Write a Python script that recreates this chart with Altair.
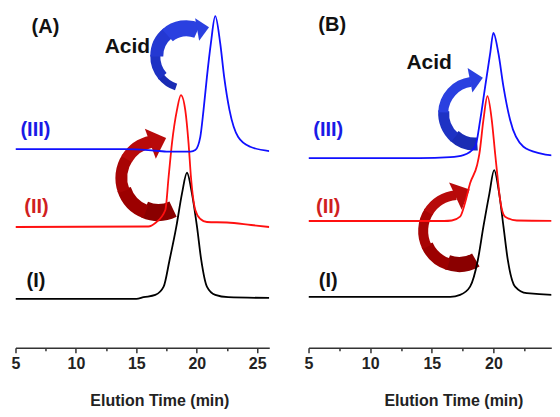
import altair as alt
import pandas as pd

FONT = "Liberation Sans"

# ---------------- data ----------------
# elution time (min) and signal (a.u., above each trace's own baseline)
# Panel (A)
a1_t = [5, 15.0, 15.6, 16.57, 17.26, 17.75, 18.31, 18.78, 19.19, 19.60, 20.02, 20.37, 20.84, 21.53, 22.6, 26]
a1_h = [0, 0, 1.7, 4, 12.3, 39, 72.3, 105.7, 126.3, 105.7, 72.3, 39, 12.3, 4, 1.7, 1]
a2_t = [5, 16.0, 16.57, 17.40, 17.67, 17.95, 18.36, 18.69, 19.05, 19.32, 19.52, 19.88, 20.3, 20.84, 22.5, 24.5, 26]
a2_h = [0, 0.5, 4, 17, 50, 84, 117, 132, 117, 84, 50, 17, 8, 5, 4.5, 2, 0]
a3_t = [5, 14, 16, 17.5, 19.5, 19.88, 20.29, 20.56, 20.84, 21.17, 21.53, 21.94, 22.27, 22.71, 23.43, 24.42, 26]
a3_h = [0, 0, -1, -2.5, -2.5, -1, 12, 39, 72, 106, 133, 106, 72, 39, 12, 2.3, -2]
a_offsets = [49, 121, 199]

# Panel (B)
b1_t = [5, 16.5, 17.30, 18.11, 18.74, 19.19, 19.68, 20.06, 20.47, 20.82, 21.17, 21.76, 22.71, 25.4, 26]
b1_h = [0, 0, 2, 10.3, 37, 70.3, 103.7, 127, 103.7, 70.3, 37, 10.3, 3.7, 2, 2]
b2_t = [5, 16.0, 16.63, 17.30, 17.7, 18.11, 18.68, 18.87, 19.19, 19.52, 19.87, 20.14, 20.28, 20.55, 20.95, 21.9, 26]
b2_h = [0, 0, 0.5, 4.3, 18, 37.7, 56, 67.7, 101, 125, 101, 67.7, 51, 21, 4.3, 0.5, 0]
b3_t = [5, 14, 16.5, 17.57, 18.52, 18.93, 19.33, 19.74, 20.0, 20.41, 20.82, 21.36, 22.44, 23.79, 25.4, 26]
b3_h = [0, 0, 1, 3, 11.3, 38, 71.3, 104.7, 125.3, 104.7, 71.3, 38, 11.3, 4.7, 2, 1.8]
b_offsets = [51, 127, 190]

series_names = ["(I)", "(II)", "(III)"]
series_colors = ["#000000", "#ff1010", "#1010ff"]
label_colors = ["#111111", "#d01f1f", "#1a1ae6"]

a_ticks = [5, 7.5, 10, 12.5, 15, 17.5, 20, 22.5, 25]
b_ticks = [5, 7.5, 10, 12.5, 15, 17.5, 20, 22.5]

# label positions (time, signal)
a_label_t = [6.69, 6.74, 6.65]
a_label_y = [67, 141, 218]
b_label_t = [6.6, 6.6, 6.6]
b_label_y = [67, 141, 218]

panel_tags = ["(A)", "(B)"]
tag_t = [7.48, 6.92]
tag_y = [321, 323]
acid_t = [14.26, 14.79]
acid_y = [301, 285]

# arrow centres (time, signal)
a_red_arrow = (16.82, 170)
a_red_head = (16.78, 207)
a_blue_arrow = (19.13, 292)
a_blue_head = (20.50, 319.7)
b_red_arrow = (17.22, 117)
b_red_head = (17.47, 155)
b_blue_arrow = (18.52, 234.5)
b_blue_head = (18.60, 269)

HEAD = "M -0.5,-1 L 0.55,0 L -0.5,1 Z"

# tapered arrow bodies: (start angle, end angle, outer radius, inner radius, colour)
a_red_body = [(2.70, 3.55, 43, 26, "#8a0000"), (3.50, 4.40, 43, 29, "#9c0000"),
              (4.35, 5.30, 43, 31, "#a80404"), (5.25, 6.09, 43, 31, "#b80a0a")]
a_blue_body = [(3.46, 4.05, 36, 29, "#1a2cb4"), (4.00, 4.75, 36, 26, "#1e32c4"),
               (4.70, 5.60, 36, 23, "#2438d2"), (5.55, 6.70, 36, 20, "#2a40e0")]
b_red_body = [(2.62, 3.50, 41, 26, "#8a0000"), (3.45, 4.30, 41, 29, "#9c0000"),
              (4.25, 5.30, 41, 31, "#a80404"), (5.25, 6.20, 41, 31, "#b80a0a")]
b_blue_body = [(3.07, 3.90, 37, 24, "#1a2cb4"), (3.85, 4.80, 37, 26, "#1e32c4"),
               (4.75, 6.15, 37, 27, "#2a40e0")]


def lines_df(ts, hs, offs):
    rows = []
    for k, (t, h, o) in enumerate(zip(ts, hs, offs)):
        for i, (tt, hh) in enumerate(zip(t, h)):
            rows.append({"t": tt, "y": hh + o, "s": series_names[k],
                         "c": series_colors[k], "i": i})
    return pd.DataFrame(rows)


def panel(idx, ts, hs, offs, lab_t, lab_y, arrows, heads, xmax, ticks, width, title_x):
    X = alt.X("t:Q", scale=alt.Scale(domain=[5, xmax], nice=False, zero=False),
              axis=alt.Axis(
                  values=ticks,
                  labelExpr="datum.value % 5 == 0 ? datum.label : ''",
                  tickSize={"condition": {"test": "datum.value % 5 != 0", "value": 3}, "value": 5},
                  grid=False, domainColor="#333333", domainWidth=1.5,
                  tickColor="#333333", tickWidth=1.5,
                  labelFont=FONT, labelFontSize=16, labelFontWeight="bold",
                  labelColor="#222222", labelPadding=3, labelFlush=False, labelOverlap=False,
                  title="Elution Time (min)", titleFont=FONT, titleFontSize=16,
                  titleFontWeight="bold", titleColor="#222222",
                  titleX=title_x, titleY=52.5, titleBaseline="middle", titleAlign="center"))
    Y = alt.Y("y:Q", scale=alt.Scale(domain=[0, 340], nice=False, zero=False), axis=None)

    layers = []
    # arrows (drawn first so the traces lie on top)
    for (ct, cy), body in arrows:
        d = pd.DataFrame({"t": [ct], "y": [cy]})
        for th1, th2, r1, r2, col in body:
            layers.append(alt.Chart(d).mark_arc(theta=th1, theta2=th2, radius=r1, radius2=r2,
                                                color=col, opacity=1, strokeWidth=0).encode(x=X, y=Y))
    for (ct, cy), (ang, sz, col) in heads:
        d = pd.DataFrame({"t": [ct], "y": [cy]})
        layers.append(alt.Chart(d).mark_point(shape=HEAD, filled=True, size=sz, angle=ang,
                                              color=col, opacity=1, strokeWidth=0).encode(x=X, y=Y))

    df = lines_df(ts, hs, offs)
    layers.append(alt.Chart(df).mark_line(interpolate="monotone", strokeWidth=1.8, clip=True).encode(
        x=X, y=Y, color=alt.Color("c:N", scale=None), detail="s:N", order="i:Q"))

    lab = pd.DataFrame({"t": lab_t, "y": lab_y, "text": series_names, "c": label_colors})
    layers.append(alt.Chart(lab).mark_text(font=FONT, fontWeight="bold", fontSize=20,
                                           align="center", baseline="middle").encode(
        x=X, y=Y, text="text:N", color=alt.Color("c:N", scale=None)))

    tag = pd.DataFrame({"t": [tag_t[idx], acid_t[idx]], "y": [tag_y[idx], acid_y[idx]],
                        "text": [panel_tags[idx], "Acid"], "fs": [20, 21]})
    layers.append(alt.Chart(tag).mark_text(font=FONT, fontWeight="bold", color="#111111",
                                           align="center", baseline="middle").encode(
        x=X, y=Y, text="text:N", size=alt.Size("fs:Q", scale=None)))

    return alt.layer(*layers).properties(width=width, height=340)


pa = panel(0, [a1_t, a2_t, a3_t], [a1_h, a2_h, a3_h], a_offsets, a_label_t, a_label_y,
           arrows=[(a_red_arrow, a_red_body), (a_blue_arrow, a_blue_body)],
           heads=[(a_red_head, (340, 1024, "#b80a0a")),
                  (a_blue_head, (350, 529, "#2a40e0"))],
           xmax=26, ticks=a_ticks, width=254, title_x=144)
pb = panel(1, [b1_t, b2_t, b3_t], [b1_h, b2_h, b3_h], b_offsets, b_label_t, b_label_y,
           arrows=[(b_red_arrow, b_red_body), (b_blue_arrow, b_blue_body)],
           heads=[(b_red_head, (335, 900, "#b80a0a")),
                  (b_blue_head, (349, 625, "#2a40e0"))],
           xmax=24.7, ticks=b_ticks, width=243, title_x=145)

chart = alt.hconcat(pa, pb, spacing=39.3, bounds="flush").properties(
    padding={"left": 2.5, "top": 0, "right": 0, "bottom": 0}
).configure_view(stroke=None)

chart.save("out.html", embed_options={"renderer": "svg", "actions": False})
